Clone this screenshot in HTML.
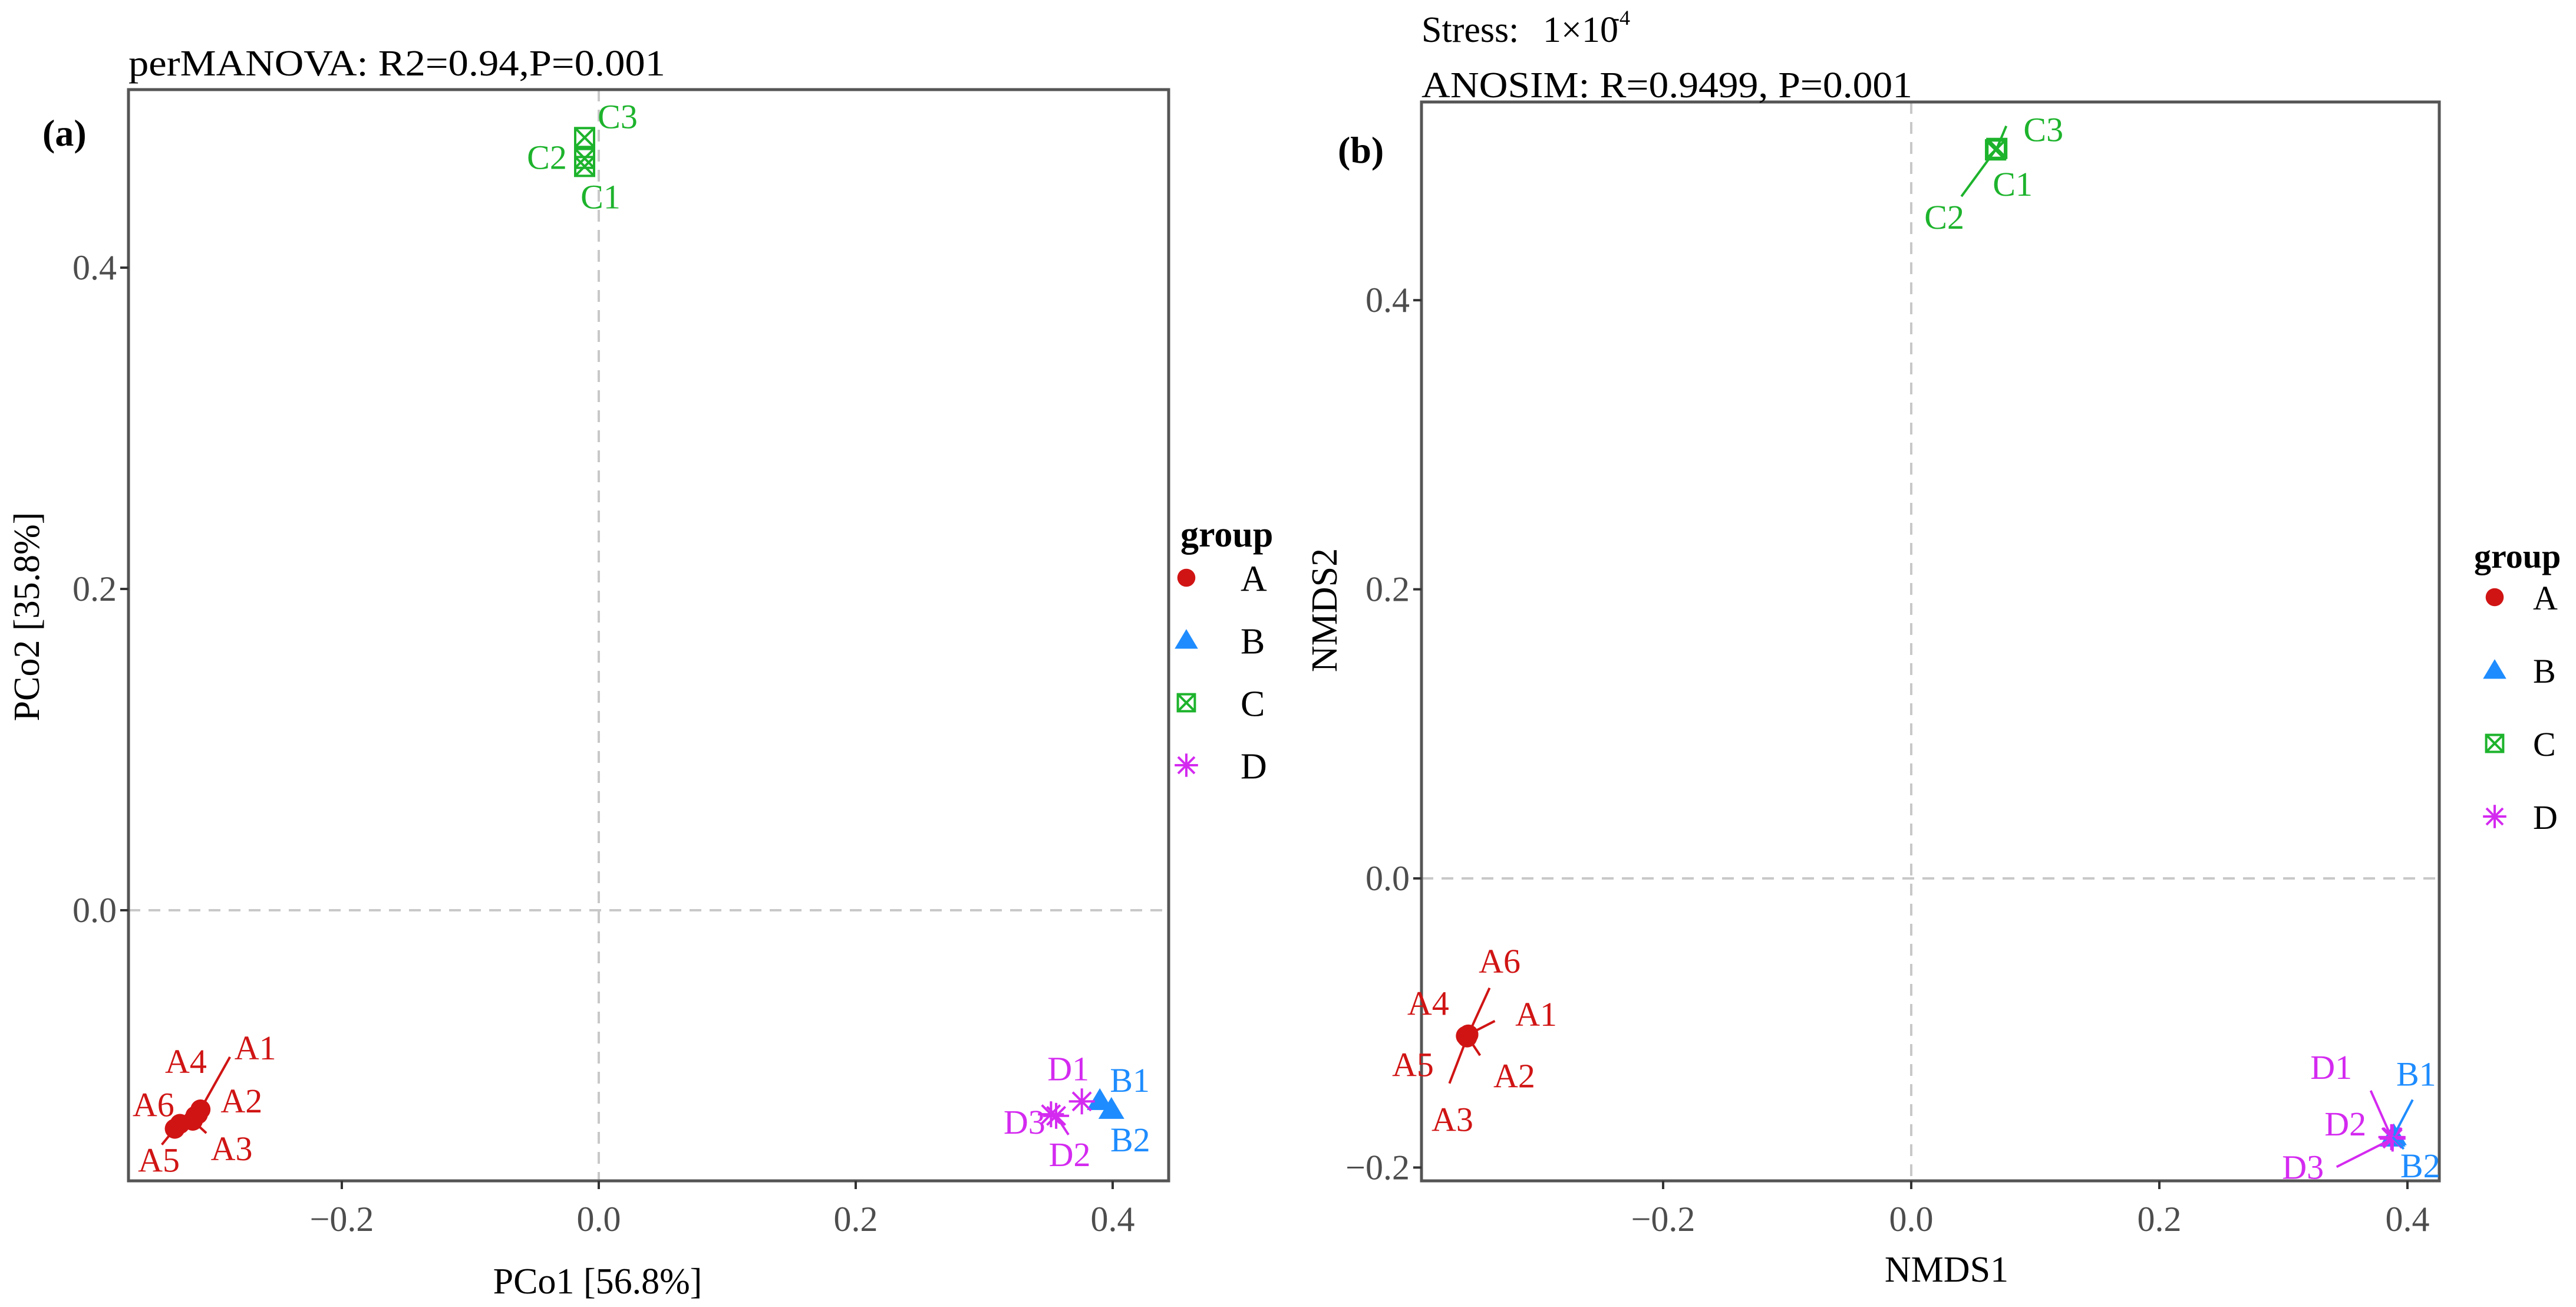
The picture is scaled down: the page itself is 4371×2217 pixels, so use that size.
<!DOCTYPE html>
<html><head><meta charset="utf-8"><style>
html,body{margin:0;padding:0;background:#fff;}
svg{display:block;font-family:"Liberation Serif",serif;}
</style></head><body>
<svg id="chart" width="4371" height="2217" viewBox="0 0 4371 2217" xmlns="http://www.w3.org/2000/svg">
<rect width="4371" height="2217" fill="#fff"/>
<g id="pa"></g>
<g id="pb"></g>
</svg>
<script>
// ---- Panel A (PCoA) data ----
const aSamples = ["A1","A2","A3","A4","A5","A6","B1","B2","C1","C2","C3","D1","D2","D3"];
const aGroups  = ["A","A","A","A","A","A","B","B","C","C","C","D","D","D"];
const aX = [-0.310,-0.312,-0.316,-0.314,-0.330,-0.326,0.390,0.399,-0.011,-0.011,-0.011,0.376,0.356,0.352];
const aY = [-0.124,-0.127,-0.131,-0.128,-0.136,-0.133,-0.1185,-0.124,0.463,0.468,0.481,-0.119,-0.128,-0.127];
const aTicks = [-0.2,0.0,0.2,0.4];
const aTickLabels = ["-0.2","0.0","0.2","0.4"];
const aYTicks = [0.0,0.2,0.4];
const aYTickLabels = ["0.0","0.2","0.4"];
// ---- Panel B (NMDS) data ----
const bSamples = ["A1","A2","A3","A4","A5","A6","B1","B2","C1","C2","C3","D1","D2","D3"];
const bGroups  = ["A","A","A","A","A","A","B","B","C","C","C","D","D","D"];
const bX = [-0.357,-0.358,-0.358,-0.359,-0.358,-0.357,0.389,0.388,0.068,0.068,0.069,0.387,0.388,0.388];
const bY = [-0.108,-0.109,-0.110,-0.109,-0.109,-0.108,-0.178,-0.179,0.504,0.504,0.505,-0.179,-0.179,-0.180];
const bTicks = [-0.2,0.0,0.2,0.4];
const bTickLabels = ["-0.2","0.0","0.2","0.4"];
const bYTicks = [-0.2,0.0,0.2,0.4];
const bYTickLabels = ["-0.2","0.0","0.2","0.4"];
const groupNames = ["A","B","C","D"];

// styling / layout (not data)
const colors = {A:"#D01414",B:"#1E8CFF",C:"#1DB32C",D:"#D42AF0"};
const aLabelOff = {A1:[93,-105,50,-89],A2:[74,-23],A3:[66,47,23,21],A4:[-16,-93],A5:[-27,53,-22,27],A6:[-45,-33],
  B1:[51,-35],B2:[32,51],C1:[27,51],C2:[-64,-2],C3:[56,-36],D1:[-23,-56],D2:[23,65,21,32],D3:[-45,13]};
const bLabelOff = {A1:[115,-35,45,-23],A2:[80,67,22,33],A3:[-25,139,-30,78],A4:[-64,-56],A5:[-92,48],A6:[53,-125,36,-79],
  B1:[38,-105,32,-61],B2:[47,48,19,20],C1:[29,58],C2:[-87,114,-58,79],C3:[79,-32,16,-38],D1:[-102,-119,-35,-79],D2:[-80,-23],D3:[-152,48,-95,48]};

const NS="http://www.w3.org/2000/svg";
function mk(parent,tag,attrs){const e=document.createElementNS(NS,tag);for(const k in attrs)e.setAttribute(k,attrs[k]);parent.appendChild(e);return e;}
function txt(parent,x,y,s,attrs){const e=mk(parent,"text",Object.assign({x:x,y:y},attrs));e.textContent=s;return e;}

function marker(parent,g,cx,cy,s){
  const c=colors[g];let m;
  if(g==="A"){m=mk(parent,"circle",{cx:cx,cy:cy,r:17*s,fill:c});}
  else if(g==="B"){m=mk(parent,"polygon",{points:`${cx},${cy-21*s} ${cx-22*s},${cy+16*s} ${cx+22*s},${cy+16*s}`,fill:c});}
  else if(g==="C"){const h=16*s;m=mk(parent,"g",{stroke:c,"stroke-width":4,fill:"none"});
    mk(m,"rect",{x:cx-h,y:cy-h,width:2*h,height:2*h});
    mk(m,"path",{d:`M${cx-h},${cy-h}L${cx+h},${cy+h}M${cx+h},${cy-h}L${cx-h},${cy+h}`});}
  else {const r=22*s,d=r*0.707;m=mk(parent,"path",{stroke:c,"stroke-width":4,fill:"none",
    d:`M${cx-r},${cy}H${cx+r}M${cx},${cy-r}V${cy+r}M${cx-d},${cy-d}L${cx+d},${cy+d}M${cx+d},${cy-d}L${cx-d},${cy+d}`});}
  return m;
}

function panel(cfg){
  const root=document.getElementById(cfg.id);
  const sx=v=>cfg.x0+v*cfg.kx, sy=v=>cfg.y0-v*cfg.ky;
  const {L,R,T,B}=cfg;
  const z=mk(root,"g",{stroke:"#c8c8c8","stroke-width":4,"stroke-dasharray":"20 14"});
  
  
  mk(z,"line",{x1:L,x2:R,y1:sy(0),y2:sy(0)});
  mk(z,"line",{x1:sx(0),x2:sx(0),y1:T,y2:B});
  const fr=mk(root,"rect",{x:L,y:T,width:R-L,height:B-T,fill:"none",stroke:"#555","stroke-width":5});
  
  
  const xa=mk(root,"g",{});
  
  
  cfg.xt.forEach((v,i)=>{mk(xa,"line",{x1:sx(v),x2:sx(v),y1:B,y2:B+14,stroke:"#333","stroke-width":4});
    const t=txt(xa,sx(v),cfg.xtY,cfg.xtl[i].replace("-","\u2212"),{"font-size":60,fill:"#4d4d4d","text-anchor":"middle"});
    
    });
  const ya=mk(root,"g",{});
  
  
  cfg.yt.forEach((v,i)=>{mk(ya,"line",{x1:L-14,x2:L,y1:sy(v),y2:sy(v),stroke:"#333","stroke-width":4});
    const t=txt(ya,L-20,sy(v)+20,cfg.ytl[i].replace("-","\u2212"),{"font-size":60,fill:"#4d4d4d","text-anchor":"end"});
    
    });
  const xt=txt(root,cfg.xTitleX,cfg.xTitleY,cfg.xTitle,{"font-size":62,fill:"#000","text-anchor":"middle"});
  
  
  const yt=txt(root,0,0,cfg.yTitle,{"font-size":62,fill:"#000","text-anchor":"middle",transform:`translate(${cfg.yTitleX},${cfg.yTitleY}) rotate(-90)`});
  
  
  const pts=mk(root,"g",{});
  
  
  const lab=mk(root,"g",{});
  
  
  cfg.samples.forEach((s,i)=>{
    const g=cfg.groups[i],px=sx(cfg.X[i]),py=sy(cfg.Y[i]),o=cfg.off[s]||[30,-30];
    if(o.length>2){const sg=mk(lab,"line",{x1:px,y1:py,x2:px+o[2],y2:py+o[3],stroke:colors[g],"stroke-width":4});
      
      }
    const m=marker(pts,g,px,py,1);
    
    
    const t=txt(lab,px+o[0],py+o[1]+20,s,{"font-size":58,fill:colors[g],"text-anchor":"middle"});
    
    
  });
  const lg=mk(root,"g",{});
  
  
  const lt=txt(lg,cfg.lgX,cfg.lgTitleY,"group",{"font-size":cfg.lgTitleSize,"font-weight":"bold",fill:"#000"});
  
  
  groupNames.forEach((g,i)=>{
    const e=mk(lg,"g",{});
    
    
    const cy=cfg.lgY0+i*cfg.lgStep;
    marker(e,g,cfg.lgMX,cy,0.9);
    txt(e,cfg.lgTX,cy+cfg.lgTS*0.36,g,{"font-size":cfg.lgTS,fill:"#000"});
  });
}

panel({id:"pa",L:218,R:1983,T:152,B:2003,x0:1016,kx:2180,y0:1544,ky:2725,
  xt:aTicks,xtl:aTickLabels,yt:aYTicks,ytl:aYTickLabels,xtY:2088,
  xTitle:"PCo1 [56.8%]",xTitleX:1014,xTitleY:2194,yTitle:"PCo2 [35.8%]",yTitleX:66,yTitleY:1046,
  samples:aSamples,groups:aGroups,X:aX,Y:aY,off:aLabelOff,
  lgX:2003,lgTitleY:927,lgTitleSize:62,lgY0:980,lgStep:106,lgMX:2013,lgTX:2105,lgTS:62});
panel({id:"pb",L:2412,R:4139,T:173,B:2003,x0:3243,kx:2105,y0:1490,ky:2452,
  xt:bTicks,xtl:bTickLabels,yt:bYTicks,ytl:bYTickLabels,xtY:2088,
  xTitle:"NMDS1",xTitleX:3303,xTitleY:2174,yTitle:"NMDS2",yTitleX:2268,yTitleY:1035,
  samples:bSamples,groups:bGroups,X:bX,Y:bY,off:bLabelOff,
  lgX:4198,lgTitleY:963,lgTitleSize:58,lgY0:1013,lgStep:124,lgMX:4233,lgTX:4298,lgTS:58});

const svg=document.getElementById("chart");
const t1=txt(svg,218,128,"perMANOVA: R2=0.94,P=0.001",{"font-size":62,fill:"#000",textLength:911,lengthAdjust:"spacingAndGlyphs"});


const t2=txt(svg,2412,71,"Stress: ",{"font-size":62,fill:"#000"});


const t2b=txt(svg,2618,71,"1×10",{"font-size":62,fill:"#000"});


const t2c=txt(svg,2736,42,"-4",{"font-size":36,fill:"#000"});


const t3=txt(svg,2412,165,"ANOSIM: R=0.9499, P=0.001",{"font-size":62,fill:"#000",textLength:833,lengthAdjust:"spacingAndGlyphs"});


const pa=txt(svg,72,247,"(a)",{"font-size":64,"font-weight":"bold",fill:"#000"});


const pbl=txt(svg,2270,276,"(b)",{"font-size":64,"font-weight":"bold",fill:"#000"});


</script>
</body></html>
